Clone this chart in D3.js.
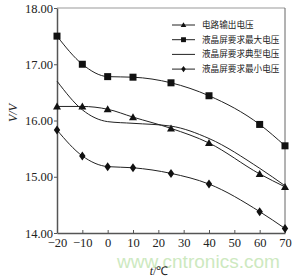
<!DOCTYPE html>
<html>
<head>
<meta charset="utf-8">
<script src="https://cdn.jsdelivr.net/npm/d3@7"></script>
<style>
  body { margin: 0; background: #fff; }
  svg { display: block; }
</style>
</head>
<body>
<div id="chart"></div>
<script>
// temperatures (x) and the four voltage series
var temps = [-20, -10, 0, 10, 25, 40, 60, 70];
var outputV  = [16.25, 16.25, 16.20, 16.06, 15.86, 15.60, 15.05, 14.82];
var maxV     = [17.50, 17.00, 16.78, 16.77, 16.67, 16.44, 15.93, 15.55];
var typicalV = [16.70, 16.19, 15.98, 15.95, 15.90, 15.68, 15.15, 14.84];
var minV     = [15.83, 15.37, 15.18, 15.16, 15.06, 14.87, 14.38, 14.08];

var xTicks = [-20, -10, 0, 10, 20, 30, 40, 50, 60, 70];
var yTicks = [14, 15, 16, 17, 18];

var seriesNames = ["电路输出电压", "液晶屏要求最大电压", "液晶屏要求典型电压", "液晶屏要求最小电压"];
var seriesData = [outputV, maxV, typicalV, minV];
var seriesMarks = ["triangle", "square", "none", "diamond"];

var margin = {top: 8, right: 15, bottom: 47, left: 57},
    width = 300 - margin.left - margin.right,
    height = 280 - margin.top - margin.bottom;

var svg = d3.select("#chart")
  .append("svg")
    .attr("width", 300)
    .attr("height", 280);

// watermark
svg.append("text")
    .attr("x", 117)
    .attr("y", 268)
    .attr("textLength", 163)
    .attr("lengthAdjust", "spacingAndGlyphs")
    .style("font-family", "'Liberation Sans', sans-serif")
    .style("font-size", "18px")
    .style("fill", "#cde9bf")
    .text("www.cntronics.com");

var g = svg.append("g")
    .attr("transform", "translate(" + margin.left + "," + margin.top + ")");

var x = d3.scaleLinear().domain([-20, 70]).range([0, width]);
var y = d3.scaleLinear().domain([14, 18]).range([height, 0]);

// frame
g.append("line").attr("x1", 0).attr("x2", width).attr("y1", 0).attr("y2", 0)
  .attr("stroke", "#999").attr("stroke-width", 1);
g.append("line").attr("x1", width).attr("x2", width).attr("y1", 0).attr("y2", height)
  .attr("stroke", "#666").attr("stroke-width", 1);

var xAxis = g.append("g")
  .attr("transform", "translate(0," + height + ")")
  .call(d3.axisBottom(x).tickValues(xTicks).tickSizeInner(-3).tickSizeOuter(0).tickPadding(5));
var yAxis = g.append("g")
  .call(d3.axisLeft(y).tickValues(yTicks).tickFormat(d3.format(".2f")).tickSizeInner(3).tickSizeOuter(0).tickPadding(1));

[xAxis, yAxis].forEach(function(a) {
  a.select(".domain").attr("stroke", "#555").attr("stroke-width", 1.5);
  a.selectAll(".tick line").attr("stroke", "#555");
  a.selectAll("text")
    .style("font-family", "'Liberation Serif', serif")
    .style("font-size", "12.5px")
    .style("fill", "#222");
});
yAxis.selectAll("text").attr("dy", "0.32em");

// axis titles
svg.append("text")
    .attr("transform", "translate(17,113) rotate(-90)")
    .attr("text-anchor", "middle")
    .style("font-family", "'Liberation Serif', serif")
    .style("font-size", "12px")
    .style("font-style", "italic")
    .style("fill", "#222")
    .text("V/V");
svg.append("text")
    .attr("x", 159)
    .attr("y", 275)
    .attr("text-anchor", "middle")
    .style("font-family", "'Liberation Serif', serif")
    .style("font-size", "12px")
    .style("fill", "#222")
    .html("<tspan font-style='italic'>t</tspan>/℃");

var line = d3.line()
  .x(function(d, i) { return x(temps[i]); })
  .y(function(d) { return y(d); })
  .curve(d3.curveMonotoneX);

function marker(sel, type) {
  if (type === "square") {
    sel.append("rect").attr("x", -3.5).attr("y", -3.5).attr("width", 7).attr("height", 7).attr("fill", "#111");
  } else if (type === "triangle") {
    sel.append("path").attr("d", "M0,-4L4,3L-4,3Z").attr("fill", "#111");
  } else if (type === "diamond") {
    sel.append("path").attr("d", "M0,-4.5L3.2,0L0,4.5L-3.2,0Z").attr("fill", "#111");
  }
}

seriesData.forEach(function(vals, k) {
  g.append("path")
    .datum(vals)
    .attr("fill", "none")
    .attr("stroke", "#222")
    .attr("stroke-width", 1)
    .attr("d", line);
  if (seriesMarks[k] !== "none") {
    g.selectAll(".pt" + k)
      .data(vals)
      .enter().append("g")
      .attr("class", "pt" + k)
      .attr("transform", function(d, i) { return "translate(" + x(temps[i]) + "," + y(d) + ")"; })
      .each(function() { marker(d3.select(this), seriesMarks[k]); });
  }
});

// legend
var legend = svg.append("g").attr("transform", "translate(172,25)");
seriesNames.forEach(function(name, k) {
  var row = legend.append("g").attr("transform", "translate(0," + (k * 14.7) + ")");
  row.append("line").attr("x1", 0).attr("x2", 23).attr("y1", 0).attr("y2", 0)
    .attr("stroke", "#222").attr("stroke-width", 1);
  var m = row.append("g").attr("transform", "translate(11.5,0) scale(0.7)");
  marker(m, seriesMarks[k]);
  row.append("text")
    .attr("x", 30)
    .attr("y", 0)
    .attr("dy", "0.35em")
    .style("font-family", "'Noto Sans CJK SC', sans-serif")
    .style("font-size", "8.6px")
    .style("fill", "#222")
    .text(name);
});
</script>
</body>
</html>
